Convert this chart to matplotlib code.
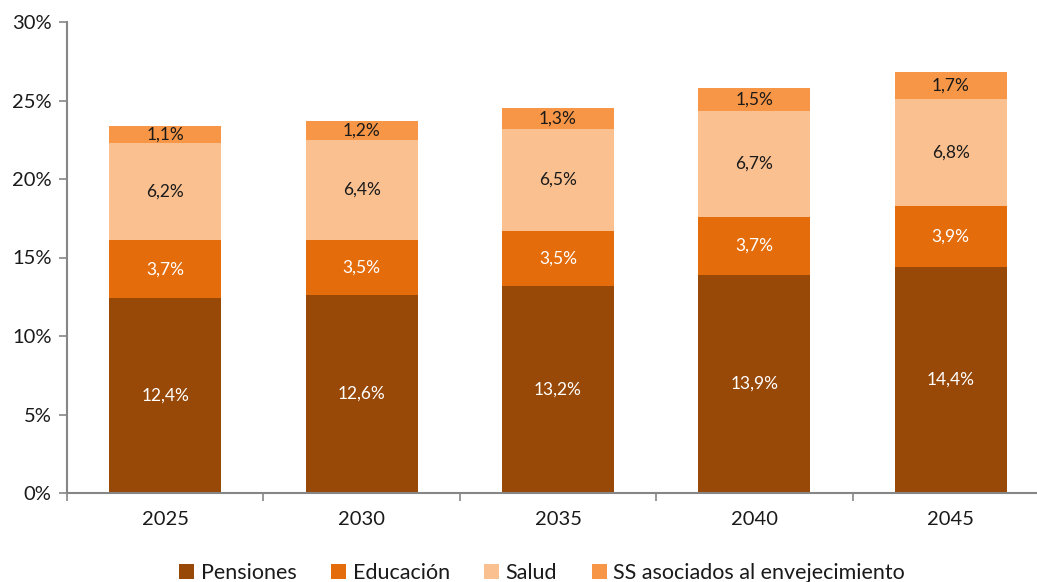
import matplotlib.pyplot as plt
import numpy as np
from matplotlib.ticker import FixedLocator

plt.rcParams['font.family'] = ['Lato', 'DejaVu Sans']

years = ['2025', '2030', '2035', '2040', '2045']
pensiones = [12.4, 12.6, 13.2, 13.9, 14.4]
educacion = [3.7, 3.5, 3.5, 3.7, 3.9]
salud = [6.2, 6.4, 6.5, 6.7, 6.8]
ss = [1.1, 1.2, 1.3, 1.5, 1.7]

series = [
    ('Pensiones', pensiones, '#984807', 'white'),
    ('Educación', educacion, '#E46C0A', 'white'),
    ('Salud', salud, '#FAC090', '#1a1a1a'),
    ('SS asociados al envejecimiento', ss, '#F79646', '#1a1a1a'),
]

fig = plt.figure(figsize=(10.37, 5.82), dpi=100)
ax = fig.add_axes([67 / 1037, 89 / 582, (1049 - 67) / 1037, 471 / 582])

x = np.arange(len(years))
bottom = np.zeros(len(years))
for name, vals, col, tcol in series:
    vals = np.array(vals)
    ax.bar(x, vals, width=0.57, bottom=bottom, color=col, label=name)
    for xi, b, v in zip(x, bottom, vals):
        ax.text(xi, b + v / 2, f'{v:.1f}%'.replace('.', ','), ha='center', va='center',
                color=tcol, fontsize=12.5)
    bottom += vals

ax.set_xlim(-0.5, len(years) - 0.5)
ax.set_ylim(0, 30)
ax.set_yticks(np.arange(0, 31, 5))
ax.set_yticklabels([f'{v}%' for v in range(0, 31, 5)], fontsize=14.5, color='#1a1a1a')
ax.set_xticks(x)
ax.set_xticklabels(years, fontsize=14.5, color='#1a1a1a')
ax.tick_params(axis='x', length=0, pad=13)
ax.xaxis.set_minor_locator(FixedLocator(np.arange(-0.5, len(years), 1)))
ax.tick_params(axis='x', which='minor', length=6, color='#868686', width=1.2, direction='out')
ax.tick_params(axis='y', length=6, color='#868686', width=1.2, pad=5)

for s in ['top', 'right']:
    ax.spines[s].set_visible(False)
for s in ['left', 'bottom']:
    ax.spines[s].set_color('#868686')
    ax.spines[s].set_linewidth(1.5)

fig.legend(loc='lower left', bbox_to_anchor=(160 / 1037, -0.035), ncol=4, frameon=False,
           fontsize=15.5, handlelength=0.7, handleheight=0.7, handletextpad=0.3,
           columnspacing=1.6, labelcolor='#1a1a1a')

fig.savefig('out.png', dpi=100)
